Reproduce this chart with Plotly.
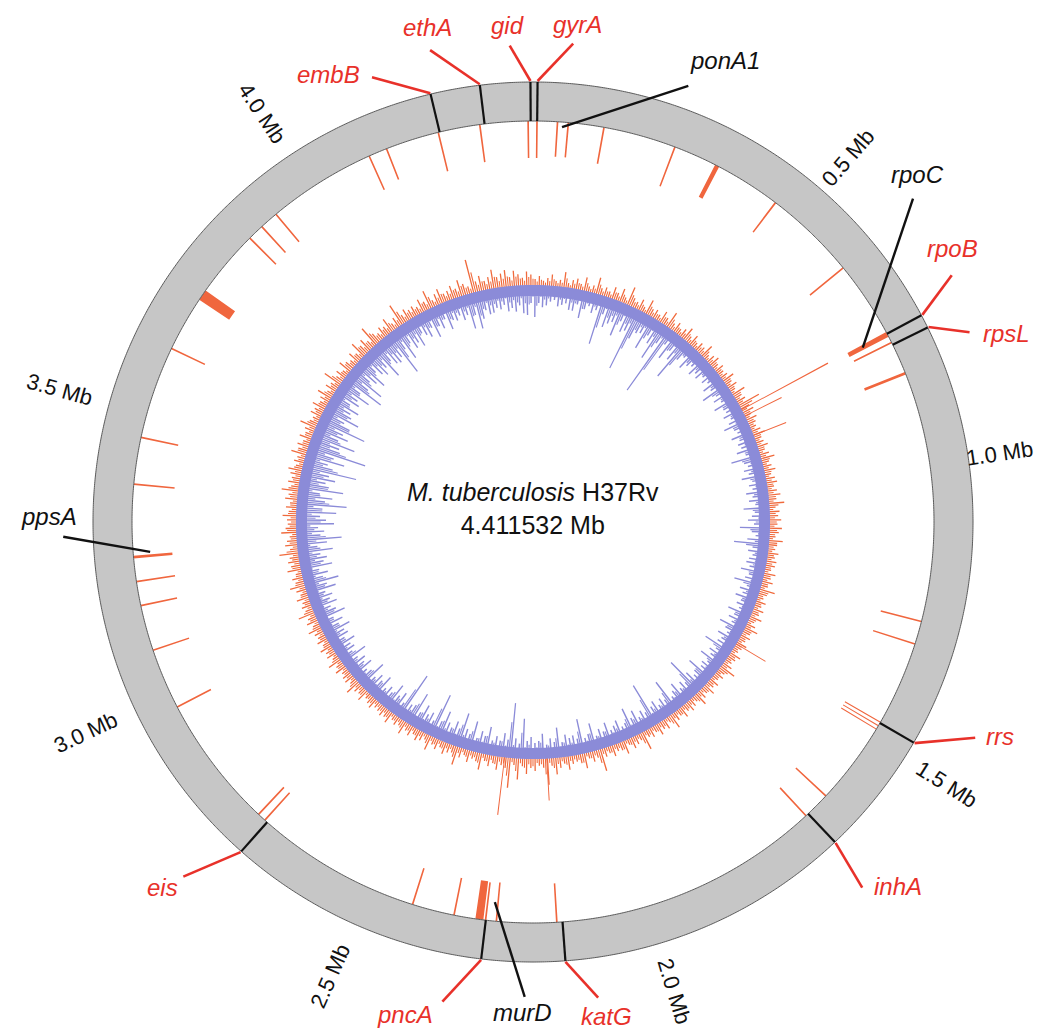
import numpy as np
import plotly.graph_objects as go

# ---------------- data ----------------
GENOME_MB = 4.411532

tick_mb = [0.5, 1.0, 1.5, 2.0, 2.5, 3.0, 3.5, 4.0]
tick_text = ["0.5 Mb", "1.0 Mb", "1.5 Mb", "2.0 Mb", "2.5 Mb", "3.0 Mb", "3.5 Mb", "4.0 Mb"]

# drug-resistance genes (red labels)
red_genes = ["embB", "ethA", "gid", "gyrA", "rpoB", "rpsL", "rrs", "inhA", "katG", "pncA", "eis"]
red_gene_mb = [4.2465, 4.3265, 4.4075, 0.0073, 0.7596, 0.7813, 1.4716, 1.6749, 2.1540, 2.2886, 2.7147]

# other genes (black labels)
black_genes = ["ponA1", "rpoC", "murD", "ppsA"]
black_gene_mb = [0.0515, 0.7615, 2.2760, 3.2540]

# inner track: 360 equal genome windows (values in track units)
blue_vals = [
    32, 18, 22, 20, 16, 14, 20, 18, 16, 22,
    22, 15, 28, 18, 14, 20, 16, 50, 18, 30,
    25, 22, 35, 18, 28, 25, 65, 30, 22, 20,
    35, 18, 25, 40, 20, 75, 16, 30, 18, 26,
    45, 20, 14, 24, 18, 15, 22, 17, 20, 14,
    18, 14, 22, 16, 28, 15, 20, 14, 24, 16,
    15, 20, 14, 18, 25, 16, 14, 22, 15, 18,
    16, 22, 14, 30, 18, 15, 20, 16, 24, 14,
    18, 15, 22, 16, 20, 14, 26, 15, 18, 22,
    16, 30, 18, 14, 22, 35, 16, 20, 15, 18,
    20, 16, 24, 15, 18, 28, 14, 20, 16, 22,
    15, 18, 14, 24, 16, 20, 15, 26, 18, 14,
    22, 16, 18, 30, 15, 20, 16, 25, 14, 18,
    16, 28, 18, 15, 22, 40, 16, 20, 15, 24,
    18, 14, 35, 16, 20, 15, 22, 18, 45, 16,
    20, 15, 24, 18, 30, 16, 14, 22, 18, 15,
    24, 16, 20, 14, 28, 18, 15, 35, 16, 20,
    18, 22, 15, 30, 16, 20, 14, 25, 18, 16,
    22, 18, 40, 15, 20, 55, 18, 24, 16, 20,
    15, 28, 18, 22, 14, 30, 16, 20, 35, 18,
    24, 16, 20, 30, 18, 45, 15, 22, 18, 26,
    16, 35, 20, 18, 50, 15, 24, 18, 28, 16,
    20, 15, 26, 18, 22, 16, 30, 18, 15, 24,
    18, 22, 16, 28, 15, 20, 18, 25, 16, 22,
    20, 28, 18, 24, 16, 30, 22, 18, 26, 20,
    24, 18, 30, 22, 35, 20, 26, 18, 32, 24,
    28, 22, 35, 20, 30, 45, 24, 28, 22, 38,
    30, 24, 40, 26, 50, 28, 35, 22, 45, 30,
    26, 35, 28, 55, 30, 24, 40, 28, 60, 32,
    30, 45, 26, 35, 28, 50, 32, 24, 38, 28,
    25, 32, 20, 28, 24, 35, 22, 45, 26, 40,
    22, 28, 35, 20, 26, 30, 24, 38, 22, 28,
    30, 26, 47, 22, 35, 20, 28, 24, 30, 18,
    22, 26, 18, 30, 20, 24, 16, 28, 20, 22,
    18, 24, 20, 35, 22, 37, 28, 20, 25, 24,
    20, 22, 18, 25, 22, 26, 20, 28, 30, 18,
]

orange_vals = [
    8, 12, 6, 10, 15, 7, 9, 20, 6, 11,
    14, 8, 18, 7, 10, 22, 9, 12, 8, 16,
    10, 18, 8, 25, 12, 9, 15, 7, 20, 10,
    12, 8, 16, 10, 22, 9, 14, 8, 12, 18,
    9, 15, 8, 12, 10, 18, 7, 11, 14, 8,
    12, 8, 10, 16, 9, 13, 7, 18, 10, 12,
    30, 12, 15, 9, 14, 10, 8, 12, 16, 9,
    10, 14, 8, 12, 18, 9, 11, 15, 8, 12,
    14, 9, 12, 16, 10, 20, 8, 13, 11, 15,
    10, 16, 12, 8, 18, 11, 9, 14, 10, 13,
    12, 8, 15, 10, 14, 9, 20, 11, 8, 13,
    9, 14, 10, 16, 8, 12, 18, 10, 13, 9,
    14, 10, 8, 15, 11, 9, 13, 22, 10, 12,
    8, 13, 10, 16, 9, 12, 18, 8, 11, 14,
    10, 15, 9, 12, 20, 8, 14, 11, 16, 9,
    13, 10, 25, 9, 12, 15, 8, 18, 11, 10,
    15, 9, 12, 30, 10, 14, 8, 20, 12, 9,
    11, 18, 9, 14, 22, 10, 35, 12, 9, 16,
    12, 20, 10, 28, 9, 40, 14, 11, 18, 10,
    15, 9, 22, 12, 10, 16, 8, 13, 25, 10,
    12, 16, 9, 14, 10, 20, 8, 12, 15, 9,
    14, 10, 18, 9, 12, 8, 16, 11, 13, 10,
    9, 14, 11, 8, 16, 10, 12, 20, 9, 13,
    12, 9, 15, 10, 18, 8, 13, 11, 16, 9,
    14, 10, 12, 18, 9, 15, 11, 22, 10, 13,
    10, 16, 9, 13, 20, 11, 14, 8, 18, 12,
    15, 12, 25, 10, 16, 13, 9, 20, 14, 11,
    12, 18, 10, 14, 9, 16, 12, 22, 10, 15,
    11, 14, 18, 9, 13, 10, 20, 12, 15, 9,
    16, 10, 13, 22, 11, 9, 15, 12, 18, 10,
    13, 20, 9, 15, 11, 25, 10, 14, 8, 18,
    12, 9, 16, 10, 22, 13, 18, 11, 28, 14,
    10, 15, 12, 20, 9, 14, 30, 11, 16, 12,
    14, 10, 18, 12, 25, 9, 15, 20, 11, 13,
    18, 12, 22, 15, 10, 45, 14, 20, 12, 16,
    25, 14, 18, 22, 12, 20, 15, 10, 18, 14,
]

# middle track: loci hanging inward from the ring (position Mb, length, locus span Mb)
ring_spoke_mb = [0.007, 0.043, 0.062, 0.125, 0.254, 0.335, 0.456, 0.621, 0.761, 0.777,
                 0.836, 1.279, 1.320, 1.470, 1.477, 1.484, 1.631, 1.680, 2.164, 2.270,
                 2.289, 2.300, 2.345, 2.420, 2.720, 2.735, 2.972, 3.080, 3.161, 3.204,
                 3.247, 3.375, 3.458, 3.623, 3.731, 3.861, 3.890, 3.923, 4.116, 4.149,
                 4.244, 4.318, 4.403]
ring_spoke_len = [37, 35, 35, 37, 42, 36, 37, 43, 44, 42,
                  44, 42, 44, 41, 41, 41, 41, 38, 39, 39,
                  38, 39, 38, 38, 37, 37, 38, 38, 37, 39,
                  39, 41, 38, 37, 36, 37, 35, 36, 37, 33,
                  40, 38, 37]
ring_spoke_span = [0.003, 0.003, 0.003, 0.003, 0.003, 0.008, 0.003, 0.003, 0.009, 0.003,
                   0.005, 0.003, 0.003, 0.002, 0.002, 0.002, 0.003, 0.003, 0.003, 0.003,
                   0.003, 0.014, 0.003, 0.003, 0.003, 0.003, 0.003, 0.003, 0.003, 0.003,
                   0.005, 0.003, 0.003, 0.003, 0.020, 0.003, 0.003, 0.003, 0.003, 0.003,
                   0.003, 0.003, 0.003]

# long loci rising from the inner track
track_spoke_mb = [0.756, 0.777, 0.840, 1.482, 2.165, 2.290]
track_spoke_len = [100, 43, 37, 36, 44, 60]

# ---------------- layout constants ----------------
W, H = 1055, 1030
CX, CY = 533, 522          # circle centre in pixels
RMAX = 508                 # polar radius in pixels (radial units == pixels)
TRACK_R = 237
BAND = 11                  # solid blue base band thickness
ORANGE_SCALE = 0.75        # px per unit for the outward (orange) track
RING_IN, RING_OUT = 401, 440
tick_label_r = [482, 472, 490, 490, 497, 494, 492, 490]

RED = "#e8312a"
SPOKE = "#f0663e"
ORANGE = "#f06a3c"
BLUE = "#8b8bd8"
FONT = "Liberation Sans, Arial, sans-serif"

# label placement (leader end r, leader end deg, label r, label deg)
red_label_pos = {
    "embB": (473, 340.1, 492, 335.4),
    "ethA": (483, 347.7, 506, 348.0),
    "gid":  (477, 357.2, 497, 357.1),
    "gyrA": (480, 4.8, 499, 5.1),
    "rpoB": (486, 59.5, 501, 56.9),
    "rpsL": (476, 66.5, 510, 68.3),
    "rrs":  (492, 116.0, 514, 114.7),
    "inhA": (492, 138.0, 516, 135.0),
    "katG": (480, 172.2, 500, 171.5),
    "pncA": (488, 190.7, 509, 194.6),
    "eis":  (498, 224.6, 520, 225.4),
}
black_label_pos = {   # inner r, leader end r, leader end deg, label r, label deg
    "ponA1": (396, 463, 19.6, 500, 22.6),
    "rpoC":  (373, 499, 49.6, 518, 47.9),
    "murD":  (382, 475, 181.0, 491, 181.2),
    "ppsA":  (384, 470, 268.2, 484, 270.6),
}


def mb2deg(mb):
    return np.asarray(mb, dtype=float) / GENOME_MB * 360.0


def paper_xy(r, deg):
    t = np.deg2rad(deg)
    return (CX + r * np.sin(t)) / W, 1 - (CY - r * np.cos(t)) / H


def annulus(r0, r1, color):
    th = np.linspace(0, 360, 1441)
    return go.Scatterpolar(
        r=np.concatenate([np.full(th.size, r1), np.full(th.size, r0)]),
        theta=np.concatenate([th, th[::-1]]),
        mode="none", fill="toself", fillcolor=color, hoverinfo="skip")


fig = go.Figure()

# grey ring
fig.add_trace(annulus(RING_IN, RING_OUT, "#c6c6c6"))
th = np.linspace(0, 360, 1441)
for rr in (RING_IN, RING_OUT):
    fig.add_trace(go.Scatterpolar(r=np.full(th.size, rr), theta=th, mode="lines",
                                  line=dict(color="#5a5a5a", width=1), hoverinfo="skip"))

# inner track
bin_mb = np.arange(len(blue_vals)) * GENOME_MB / len(blue_vals) + GENOME_MB / len(blue_vals) / 2
bin_deg = mb2deg(bin_mb)
ov = np.array(orange_vals, dtype=float) * ORANGE_SCALE
bv = np.array(blue_vals, dtype=float)
fig.add_trace(go.Barpolar(r=ov + 3, base=TRACK_R - 3, theta=bin_deg, width=0.3,
                          marker=dict(color=ORANGE, line=dict(width=0)), hoverinfo="skip"))
fig.add_trace(go.Barpolar(r=ov * 0.6 + 3, base=TRACK_R - 3, theta=bin_deg + 0.5, width=0.25,
                          marker=dict(color=ORANGE, line=dict(width=0)), hoverinfo="skip"))
fig.add_trace(annulus(TRACK_R - BAND, TRACK_R, BLUE))
fig.add_trace(go.Barpolar(r=bv, base=TRACK_R - bv, theta=bin_deg, width=0.38,
                          marker=dict(color=BLUE, line=dict(width=0)), hoverinfo="skip"))
fig.add_trace(go.Barpolar(r=bv * 0.65, base=TRACK_R - bv * 0.65, theta=bin_deg + 0.5, width=0.3,
                          marker=dict(color=BLUE, line=dict(width=0)), hoverinfo="skip"))

# long loci from track
tl = np.array(track_spoke_len, dtype=float)
fig.add_trace(go.Barpolar(r=tl, base=TRACK_R - 2, theta=mb2deg(track_spoke_mb),
                          width=mb2deg([0.0025] * len(tl)),
                          marker=dict(color=SPOKE, line=dict(width=0)), hoverinfo="skip"))

# loci hanging from ring
rl = np.array(ring_spoke_len, dtype=float)
fig.add_trace(go.Barpolar(r=rl, base=RING_IN - rl, theta=mb2deg(ring_spoke_mb),
                          width=mb2deg(ring_spoke_span),
                          marker=dict(color=SPOKE, line=dict(width=0)), hoverinfo="skip"))

# gene ticks across ring
gr, gt = [], []
for d in mb2deg(red_gene_mb):
    gr += [RING_IN, RING_OUT, None]
    gt += [d, d, None]
fig.add_trace(go.Scatterpolar(r=gr, theta=gt, mode="lines",
                              line=dict(color="#111111", width=2.2), hoverinfo="skip"))

# red leader lines
lr, lt = [], []
for g, mb in zip(red_genes, red_gene_mb):
    er, ed, _, _ = red_label_pos[g]
    lr += [RING_OUT + 1, er, None]
    lt += [float(mb2deg(mb)), ed, None]
fig.add_trace(go.Scatterpolar(r=lr, theta=lt, mode="lines", cliponaxis=False,
                              line=dict(color=RED, width=2.6), hoverinfo="skip"))

# black leader lines
br, bt = [], []
for g, mb in zip(black_genes, black_gene_mb):
    ir, er, ed, _, _ = black_label_pos[g]
    br += [ir, er, None]
    bt += [float(mb2deg(mb)), ed, None]
fig.add_trace(go.Scatterpolar(r=br, theta=bt, mode="lines", cliponaxis=False,
                              line=dict(color="#111111", width=2.4), hoverinfo="skip"))

annotations = []
# scale labels (radial orientation)
for mb, txt, rr in zip(tick_mb, tick_text, tick_label_r):
    d = float(mb2deg(mb))
    ang = d - 90 if d < 180 else d - 270
    x, y = paper_xy(rr, d)
    annotations.append(dict(x=x, y=y, xref="paper", yref="paper", text=txt, showarrow=False,
                            textangle=ang, xanchor="center", yanchor="middle",
                            font=dict(family=FONT, size=22, color="#111111")))
for g in red_genes:
    _, _, lr_, ld_ = red_label_pos[g]
    x, y = paper_xy(lr_, ld_)
    annotations.append(dict(x=x, y=y, xref="paper", yref="paper", text="<i>%s</i>" % g,
                            showarrow=False, xanchor="center", yanchor="middle",
                            font=dict(family=FONT, size=24, color=RED)))
for g in black_genes:
    _, _, _, lr_, ld_ = black_label_pos[g]
    x, y = paper_xy(lr_, ld_)
    annotations.append(dict(x=x, y=y, xref="paper", yref="paper", text="<i>%s</i>" % g,
                            showarrow=False, xanchor="center", yanchor="middle",
                            font=dict(family=FONT, size=24, color="#111111")))
# centre title
annotations.append(dict(x=CX / W, y=1 - (CY - 13) / H, xref="paper", yref="paper",
                        text="<i>M. tuberculosis</i> H37Rv<br>%s Mb" % GENOME_MB,
                        showarrow=False, xanchor="center", yanchor="middle",
                        font=dict(family=FONT, size=25, color="#111111")))

fig.update_layout(
    width=W, height=H, autosize=False,
    margin=dict(l=0, r=0, t=0, b=0),
    paper_bgcolor="white", plot_bgcolor="white",
    showlegend=False,
    annotations=annotations,
    polar=dict(
        domain=dict(x=[(CX - RMAX) / W, (CX + RMAX) / W],
                    y=[1 - (CY + RMAX) / H, 1 - (CY - RMAX) / H]),
        bgcolor="white",
        radialaxis=dict(range=[0, RMAX], visible=False),
        angularaxis=dict(rotation=90, direction="clockwise", visible=False),
    ),
)

fig.write_html("out.html", config={"displayModeBar": False},
               post_script="document.body.style.margin='0';document.body.style.overflow='hidden';")
